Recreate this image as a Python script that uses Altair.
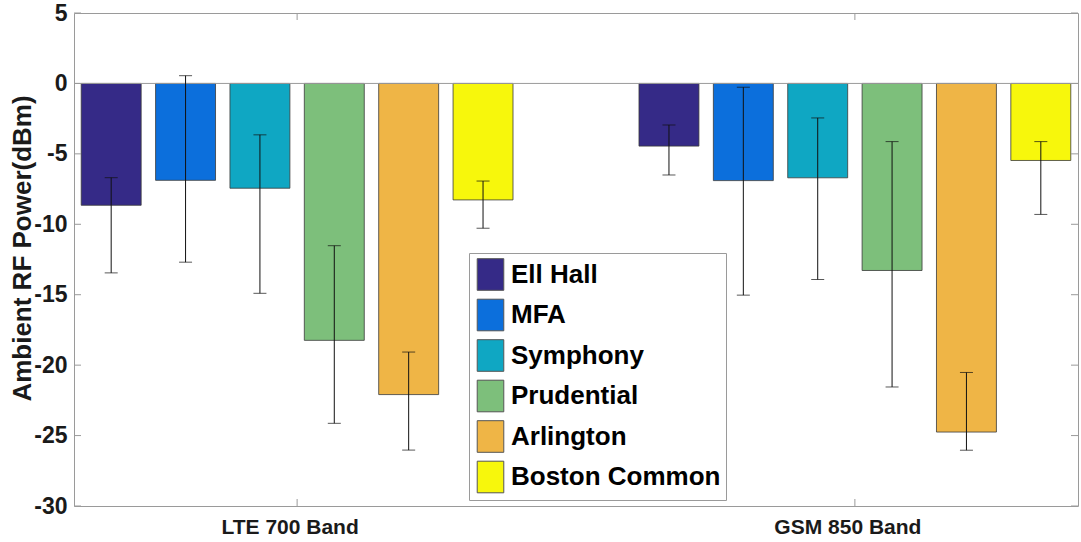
import altair as alt
import pandas as pd

groups = ["LTE 700 Band", "GSM 850 Band"]
sites = ["Ell Hall", "MFA", "Symphony", "Prudential", "Arlington", "Boston Common"]
colors = ["#352a87", "#0c6fdc", "#0fa7c3", "#7dbf7b", "#efb546", "#f7f70c"]

lte_mean = [-8.65, -6.88, -7.44, -18.24, -22.09, -8.27]
lte_hi = [-6.69, 0.55, -3.65, -11.52, -19.07, -6.93]
lte_lo = [-13.45, -12.69, -14.90, -24.13, -26.03, -10.28]
gsm_mean = [-4.45, -6.90, -6.70, -13.28, -24.75, -5.47]
gsm_hi = [-2.95, -0.27, -2.45, -4.13, -20.52, -4.13]
gsm_lo = [-6.50, -15.03, -13.92, -21.55, -26.04, -9.30]

y_ticks = [5, 0, -5, -10, -15, -20, -25, -30]

rows = []
for g, m, hi, lo in [(groups[0], lte_mean, lte_hi, lte_lo), (groups[1], gsm_mean, gsm_hi, gsm_lo)]:
    for s, a, b, c in zip(sites, m, hi, lo):
        rows.append({"band": g, "site": s, "mean": a, "hi": b, "lo": c})
df = pd.DataFrame(rows)
tick_df = pd.DataFrame({"v": y_ticks})
band_df = pd.DataFrame({"band": groups})

W, H = 1004, 493
FONT = "Liberation Sans"
TXT = "#1a1a1a"
BOX = "#9a9a9a"

yscale = alt.Scale(domain=[-30, 5], nice=False, zero=False)
yaxis = alt.Axis(values=y_ticks, title="Ambient RF Power(dBm)", grid=False, ticks=False,
                 domain=False, labelFont=FONT, labelFontSize=23, labelFontWeight="bold",
                 labelColor=TXT, labelPadding=7, labelExpr="'' + datum.value",
                 titleFont=FONT, titleFontSize=26, titleFontWeight="bold",
                 titleColor=TXT, titlePadding=-2, titleY=235)
xscale = alt.Scale(domain=groups, paddingInner=0.2, paddingOuter=0)
xaxis = alt.Axis(title=None, labelAngle=0, ticks=False, domain=False, labelFont=FONT,
                 labelFontSize=21, labelFontWeight="bold", labelColor=TXT, labelPadding=10,
                 labelOffset=-7)
xenc = alt.X("band:N", sort=groups, scale=xscale, axis=xaxis)
xoff = alt.XOffset("site:N", sort=sites,
                   scale=alt.Scale(domain=sites, paddingInner=0.194, paddingOuter=0.097))

base = alt.Chart(df)

bars = base.mark_bar(stroke="#3a3a3a", strokeWidth=0.8).encode(
    x=xenc,
    xOffset=xoff,
    y=alt.Y("mean:Q", scale=yscale, axis=yaxis),
    color=alt.Color("site:N", sort=sites, scale=alt.Scale(domain=sites, range=colors),
                    legend=alt.Legend(orient="none", legendX=395, legendY=240, title=None,
                                      symbolType="M-0.84,-1H0.84V1H-0.84Z", symbolSize=1000,
                                      symbolStrokeColor="#555", symbolStrokeWidth=1,
                                      labelFont=FONT, labelFontSize=26, labelFontWeight="bold",
                                      labelColor="#000", labelOffset=4,
                                      strokeColor=BOX, fillColor="white", padding=5,
                                      rowPadding=3.5, labelLimit=400)),
)

zero = alt.Chart(pd.DataFrame({"v": [0]})).mark_rule(color=BOX, strokeWidth=1).encode(
    y=alt.Y("v:Q", scale=yscale, axis=yaxis), x=alt.value(0), x2=alt.value(W))

err = base.mark_rule(color="#111", strokeWidth=1).encode(
    x=xenc, xOffset=xoff,
    y=alt.Y("lo:Q", scale=yscale, axis=yaxis), y2="hi:Q")
cap_lo = base.mark_tick(color="#111", thickness=1, size=13, orient="horizontal").encode(
    x=xenc, xOffset=xoff, y=alt.Y("lo:Q", scale=yscale, axis=yaxis))
cap_hi = base.mark_tick(color="#111", thickness=1, size=13, orient="horizontal").encode(
    x=xenc, xOffset=xoff, y=alt.Y("hi:Q", scale=yscale, axis=yaxis))

ytick_l = alt.Chart(tick_df).mark_rule(color=BOX, strokeWidth=1).encode(
    y=alt.Y("v:Q", scale=yscale, axis=yaxis), x=alt.value(0), x2=alt.value(7))
ytick_r = alt.Chart(tick_df).mark_rule(color=BOX, strokeWidth=1).encode(
    y=alt.Y("v:Q", scale=yscale, axis=yaxis), x=alt.value(W - 7), x2=alt.value(W))
xtick_b = alt.Chart(band_df).mark_rule(color=BOX, strokeWidth=1).encode(
    x=alt.X("band:N", sort=groups, scale=xscale, axis=xaxis, bandPosition=0.5),
    y=alt.value(H - 7), y2=alt.value(H))
xtick_t = alt.Chart(band_df).mark_rule(color=BOX, strokeWidth=1).encode(
    x=alt.X("band:N", sort=groups, scale=xscale, axis=xaxis, bandPosition=0.5),
    y=alt.value(0), y2=alt.value(7))

chart = alt.layer(bars, zero, err, cap_lo, cap_hi, ytick_l, ytick_r, xtick_b, xtick_t).properties(
    width=W, height=H,
    autosize=alt.AutoSizeParams(type="none"),
    padding={"left": 74, "top": 13, "right": 3, "bottom": 36},
    background="white",
).configure_view(stroke=BOX, strokeWidth=1)

chart.save("out.html", embed_options={"renderer": "svg", "actions": False})
